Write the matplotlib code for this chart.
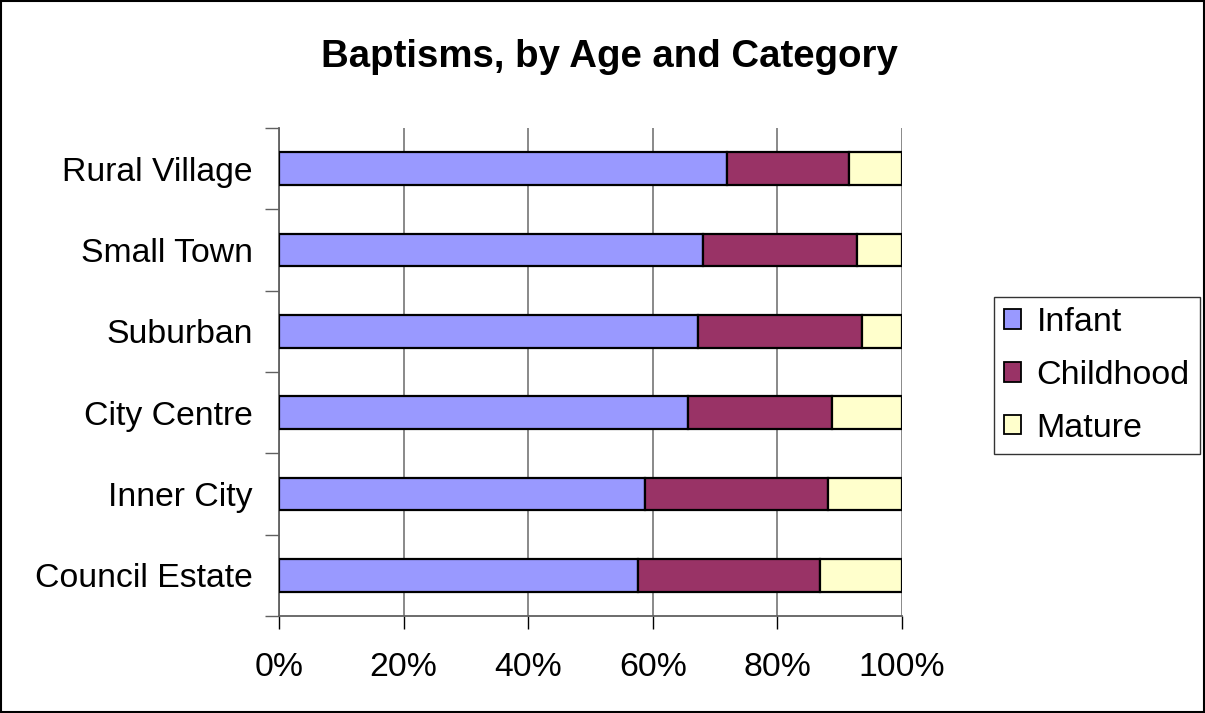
import matplotlib.pyplot as plt
import numpy as np
from matplotlib.patches import Rectangle
from matplotlib.ticker import FixedLocator, PercentFormatter

plt.rcParams['font.family'] = ['Liberation Sans', 'DejaVu Sans']

categories = ['Council Estate', 'Inner City', 'City Centre', 'Suburban', 'Small Town', 'Rural Village']
infant = [57.6, 58.8, 65.7, 67.3, 68.0, 71.9]
childhood = [29.3, 29.3, 23.1, 26.2, 24.7, 19.6]
mature = [13.1, 11.9, 11.2, 6.5, 7.3, 8.5]
series = ['Infant', 'Childhood', 'Mature']
colors = ['#9999FF', '#993366', '#FFFFCC']

fig = plt.figure(figsize=(12.05, 7.13), dpi=100)
ax = fig.add_axes([279/1205, 1 - 616/713, 623/1205, 488/713])

y = np.arange(len(categories))
left = np.zeros(len(categories))
for name, vals, col in zip(series, [infant, childhood, mature], colors):
    ax.barh(y, vals, left=left, height=0.40, color=col, edgecolor='black',
            linewidth=1.6, label=name, zorder=3)
    left += np.array(vals)

ax.set_xlim(0, 100)
ax.set_ylim(-0.5, len(categories) - 0.5)
ax.xaxis.set_major_locator(FixedLocator([0, 20, 40, 60, 80, 100]))
ax.xaxis.set_major_formatter(PercentFormatter(decimals=0))
ax.grid(axis='x', color='#808080', linewidth=1.3, zorder=0)

ax.set_yticks(y)
ax.set_yticklabels(categories)
ax.set_yticks(np.arange(-0.5, len(categories), 1), minor=True)
ax.tick_params(axis='y', which='major', length=0, pad=19, labelsize=24.3)
ax.tick_params(axis='y', which='minor', length=10, width=1, color='#606060', direction='out')
ax.tick_params(axis='x', length=9, width=1, color='black', pad=17, labelsize=24.3)

ax.spines['top'].set_visible(False)
ax.spines['right'].set_visible(False)
ax.spines['left'].set_color('#606060')
ax.spines['bottom'].set_color('#606060')
ax.spines['left'].set_linewidth(1.3)
ax.spines['bottom'].set_linewidth(1.3)

fig.text(609/1205, 1 - 57/713, 'Baptisms, by Age and Category', ha='center', va='center',
         fontsize=27.6, fontweight='bold')

leg = fig.legend(loc='upper left', bbox_to_anchor=(994/1205, 1 - 297/713),
                 fontsize=24.5, frameon=True, fancybox=False, edgecolor='black',
                 handlelength=0.5, handleheight=0.5, handletextpad=0.45,
                 labelspacing=0.64, borderpad=0.3, borderaxespad=0)
leg.get_frame().set_linewidth(1.0)
for h in leg.legend_handles:
    h.set_linewidth(1.3)

fig.patches.append(Rectangle((0.001, 0.001), 0.998, 0.998, transform=fig.transFigure,
                             fill=False, edgecolor='black', linewidth=1.5))

fig.savefig('out.png', dpi=100)
